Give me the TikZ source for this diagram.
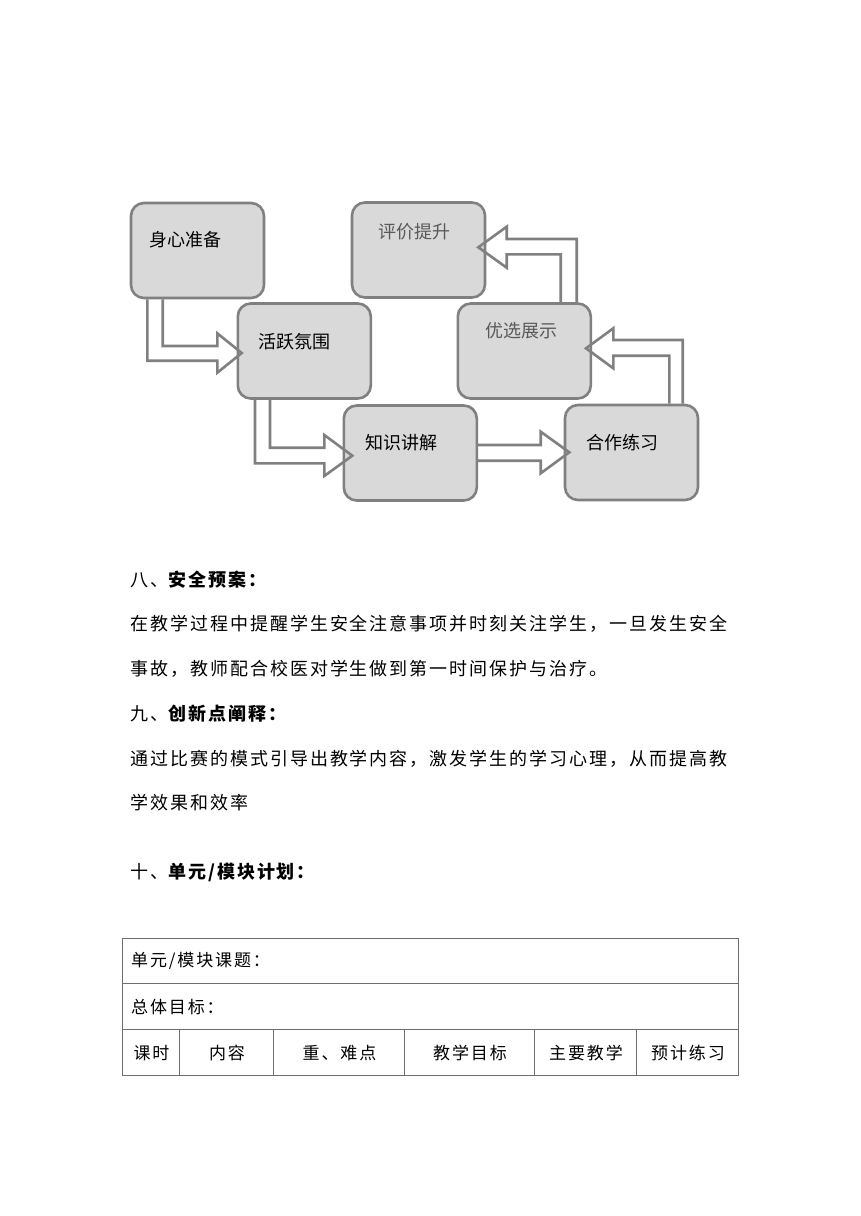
\documentclass[tikz,border=0pt]{standalone}
\usepackage{fontspec}
\setmainfont{Noto Sans CJK SC}
\newfontfamily\cjk{Noto Sans CJK SC}
\newfontfamily\cjksp[LetterSpace=11]{Noto Sans CJK SC}
\usetikzlibrary{calc}
\definecolor{boxfill}{HTML}{D9D9D9}
\definecolor{boxline}{HTML}{808080}
\definecolor{graytxt}{HTML}{595959}
\definecolor{tabline}{HTML}{6E6E6E}
\tikzset{
  stagebox/.style={draw=boxline, fill=boxfill, line width=2.6pt, rounded corners=13pt,
    minimum width=133pt, minimum height=95pt, inner sep=0pt},
  stagetxt/.style={anchor=west, inner sep=0pt, font=\cjk\fontsize{18}{20}\selectfont},
  blockarrow/.style={draw=boxline, line width=2.6pt, line join=miter},
  bodytxt/.style={anchor=west, inner sep=0pt, text=black, font=\cjksp\fontsize{18}{22}\selectfont},
  tabtxt/.style={inner sep=0pt, text=black, font=\cjksp\fontsize{17}{20}\selectfont},
  tabrule/.style={draw=tabline, line width=1pt}
}
\begin{document}
\begin{tikzpicture}[x=1pt, y=-1pt]
\useasboundingbox (0,0) rectangle (860,1216);
\fill[white] (0,0) rectangle (860,1216);

% stage boxes
\node[stagebox] (b1) at (197.5,250.5) {};
\node[stagebox] (b2) at (418.5,250) {};
\node[stagebox] (b3) at (304.3,351) {};
\node[stagebox] (b4) at (410.3,453) {};
\node[stagebox] (b5) at (524.3,351) {};
\node[stagebox] (b6) at (631.5,452.5) {};

% stage labels
\node[stagetxt, text=black] (t1) at (149,240) {身心准备};
\node[stagetxt, text=graytxt] (t2) at (378,232) {评价提升};
\node[stagetxt, text=black] (t3) at (258,341.5) {活跃氛围};
\node[stagetxt, text=black] (t4) at (365,443) {知识讲解};
\node[stagetxt, text=graytxt] (t5) at (485,331) {优选展示};
\node[stagetxt, text=black] (t6) at (586,442.5) {合作练习};

% block arrows
\draw[blockarrow] (162.7,0 |- b1.south) -- (162.7,346) -- (217.3,346) -- (217.3,333.3)
  -- (241.7,353) -- (217.3,372.7) -- (217.3,360.7) -- (147.3,360.7) -- (147.3,0 |- b1.south);
\draw[blockarrow] (270,0 |- b3.south) -- (270,447.7) -- (324.3,447.7) -- (324.3,435)
  -- (352.3,455.7) -- (324.3,476) -- (324.3,463.3) -- (255,463.3) -- (255,0 |- b3.south);
\draw[blockarrow] (b4.east |- 0,445) -- (540.7,445) -- (540.7,431.7) -- (569.3,452.3)
  -- (540.7,473.3) -- (540.7,460.7) -- (b4.east |- 0,460.7);
\draw[blockarrow] (669.3,0 |- b6.north) -- (669.3,355.7) -- (613.3,355.7) -- (613.3,368.3)
  -- (586,348.3) -- (613.3,328.3) -- (613.3,340) -- (682.7,340) -- (682.7,0 |- b6.north);
\draw[blockarrow] (560.7,0 |- b5.north) -- (560.7,254.3) -- (506.7,254.3) -- (506.7,267.7)
  -- (478.3,247.3) -- (506.7,226.7) -- (506.7,239) -- (576.7,239) -- (576.7,0 |- b5.north);

% text section
\node[bodytxt] (h8) at (130,580) {八、{\bfseries 安全预案：}};
\node[bodytxt] (p1) at (130,624) {在教学过程中提醒学生安全注意事项并时刻关注学生，一旦发生安全};
\node[bodytxt] (p2) at (130,669) {事故，教师配合校医对学生做到第一时间保护与治疗。};
\node[bodytxt] (h9) at (130,714) {九、{\bfseries 创新点阐释：}};
\node[bodytxt] (p3) at (130,759) {通过比赛的模式引导出教学内容，激发学生的学习心理，从而提高教};
\node[bodytxt] (p4) at (130,803) {学效果和效率};
\node[bodytxt] (h10) at (130,872) {十、{\bfseries 单元/模块计划：}};

% table
\draw[tabrule] (122,938) rectangle (738,1075);
\draw[tabrule] (122,983) -- (738,983);
\draw[tabrule] (122,1029) -- (738,1029);
\foreach \cx in {179.5,273,404.5,534,636} {
  \draw[tabrule] (\cx,1029) -- (\cx,1075);
}
\node[tabtxt, anchor=west] (r1) at (131,961) {单元/模块课题：};
\node[tabtxt, anchor=west] (r2) at (131,1007) {总体目标：};
\node[tabtxt] (c1) at (151.5,1053) {课时};
\node[tabtxt] (c2) at (227,1053) {内容};
\node[tabtxt] (c3) at (339.5,1053) {重、难点};
\node[tabtxt] (c4) at (470,1053) {教学目标};
\node[tabtxt] (c5) at (586,1053) {主要教学};
\node[tabtxt] (c6) at (688,1053) {预计练习};
\end{tikzpicture}
\end{document}
